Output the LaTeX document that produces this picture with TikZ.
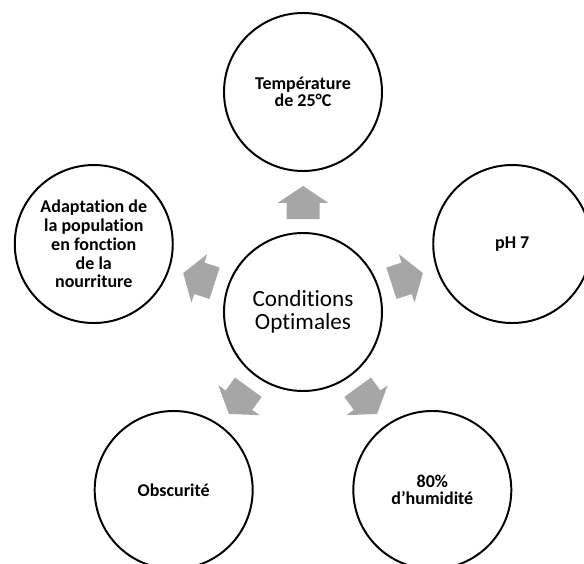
\documentclass[tikz,border=0pt]{standalone}
\usepackage{fontspec}
\setmainfont{Carlito}[Ligatures=NoCommon]
\usepackage{xcolor}
\usepackage{tikz}

\begin{document}
\begin{tikzpicture}[
  bubble/.style={circle,draw=black,line width=1.4pt,fill=white,minimum size=3.95cm,inner sep=0pt,align=center},
  outer/.style={bubble,font=\fontsize{12.8}{12.5}\selectfont\bfseries},
  blockarrow/.style={fill=gray!70,draw=none}
]
\path[use as bounding box,clip] (0,0) rectangle (14.6,14.075);
\node[bubble,font=\fontsize{16.5}{16}\selectfont] (centre) at (7.575,6.275) {Conditions\\Optimales};
\node[outer] (temp) at ([shift={(90:5.5)}]centre) {Température\\de 25°C};
\node[outer] (ph) at ([shift={(18:5.5)}]centre) {pH 7};
\node[outer] (humid) at ([shift={(306:5.5)}]centre) {80\%\\d’humidité};
\node[outer] (dark) at ([shift={(234:5.5)}]centre) {Obscurité};
\node[outer,font=\fontsize{12.8}{13.4}\selectfont\bfseries] (food) at ([shift={(162:5.5)}]centre) {Adaptation de\\la population\\en fonction\\de la\\nourriture};
% block arrows pointing out of the centre
\foreach \a in {90,18,162,234,306}
  \fill[blockarrow,shift={(centre)},rotate=\a] (2.325,-0.4125) -- (2.725,-0.4125) -- (2.725,-0.6375) -- (3.15,0)
    -- (2.725,0.6375) -- (2.725,0.4125) -- (2.325,0.4125) -- cycle;
\end{tikzpicture}
\end{document}
